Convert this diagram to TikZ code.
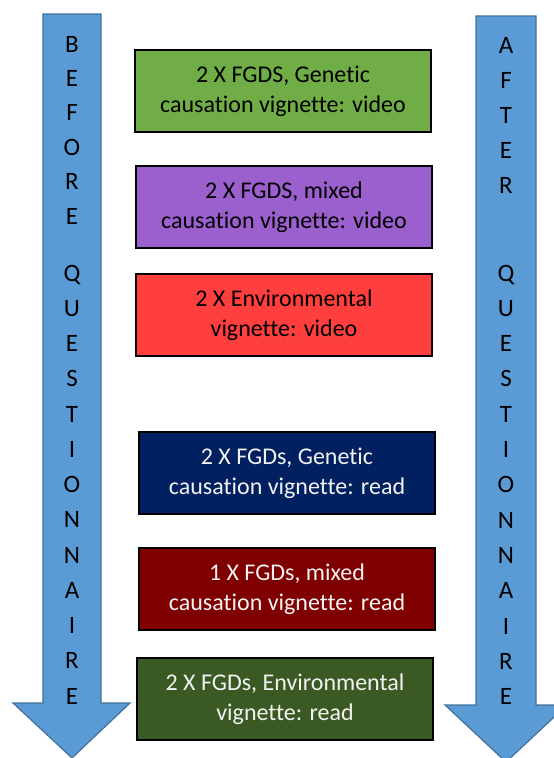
\documentclass[tikz,border=0pt]{standalone}
\usepackage{fontspec}
\setmainfont{Carlito}[Ligatures=NoCommon]
\usetikzlibrary{positioning}
\definecolor{arrowblue}{HTML}{5B9BD5}
\definecolor{arrowedge}{HTML}{41719C}
\definecolor{leaf}{HTML}{70AD47}
\definecolor{lilac}{HTML}{9B5FCE}
\definecolor{flame}{HTML}{FF3E3E}
\definecolor{navyblue}{HTML}{002060}
\definecolor{maroon}{HTML}{7F0000}
\definecolor{moss}{HTML}{3A5923}
\definecolor{offwhite}{HTML}{F2F2F2}
\tikzset{
  vig/.style={rectangle,draw=black,line width=1.6pt,fill=#1,
              minimum width=296pt,minimum height=82pt,inner sep=0pt,
              font=\fontsize{24}{30}\selectfont,align=center},
  vigdark/.style={vig=#1,text=offwhite},
  qarrow/.style={draw=arrowedge,fill=arrowblue,line width=1.2pt},
  qletter/.style={font=\fontsize{25}{25}\selectfont,inner sep=0pt,anchor=base},
}

\begin{document}
\begin{tikzpicture}[x=1pt,y=-1pt]
  \useasboundingbox (0,0) rectangle (554,758);
  \clip (0,0) rectangle (554,758);

  % before / after arrows
  \draw[qarrow] (43,14) -- (101,14) -- (101,703) -- (130,703) -- (72,758)
    -- (13,703) -- (43,703) -- cycle;
  \draw[qarrow] (476,16) -- (536,16) -- (536,705) -- (567,705) -- (506,762)
    -- (445,705) -- (476,705) -- cycle;

  \foreach \c [count=\i from 0] in {B,E,F,O,R,E}
    \node[qletter] (bl\i) at (72,{52+34.4*\i}) {\c};
  \foreach \c [count=\i from 0] in {A,F,T,E,R}
    \node[qletter] (al\i) at (506,{53+35*\i}) {\c};
  \foreach \c [count=\i from 0] in {Q,U,E,S,T,I,O,N,N,A,I,R,E} {
    \node[qletter] (bq\i) at (72,{281+35.25*\i}) {\c};
    \node[qletter] (aq\i) at (506,{281+35.3*\i}) {\c};
  }

  % vignette boxes
  \node[vig=leaf]          (genvid)  at (283,91)  {2 X FGDS, Genetic\\causation vignette: video};
  \node[vig=lilac]         (mixvid)  at (284,207) {2 X FGDS, mixed\\causation vignette: video};
  \node[vig=flame]         (envvid)  at (284,315) {2 X Environmental\\vignette: video};
  \node[vigdark=navyblue]  (genread) at (287,473) {2 X FGDs, Genetic\\causation vignette: read};
  \node[vigdark=maroon]    (mixread) at (287,589) {1 X FGDs, mixed\\causation vignette: read};
  \node[vigdark=moss]      (envread) at (285,699) {2 X FGDs, Environmental\\vignette: read};
\end{tikzpicture}
\end{document}
